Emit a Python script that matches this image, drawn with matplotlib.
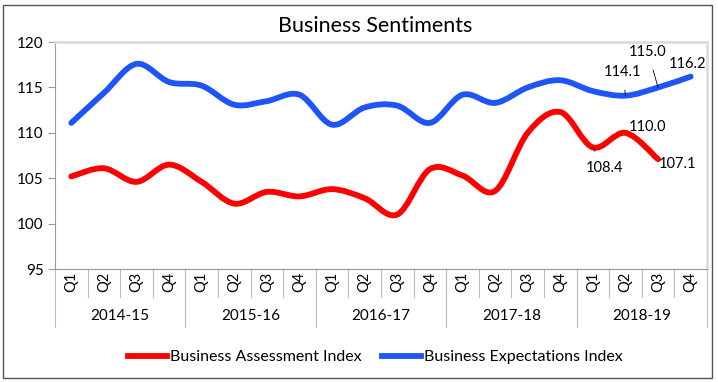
import numpy as np
import matplotlib
matplotlib.use("Agg")
import matplotlib.pyplot as plt
from matplotlib.path import Path
from matplotlib.patches import PathPatch, Rectangle
from matplotlib.lines import Line2D

# data
years = ["2014-15", "2015-16", "2016-17", "2017-18", "2018-19"]
quarters = ["Q1", "Q2", "Q3", "Q4"]
assessment = [105.2, 106.1, 104.6, 106.5, 104.6, 102.2, 103.5, 103.0, 103.8, 102.8,
              101.0, 106.0, 105.3, 103.6, 110.0, 112.3, 108.4, 110.0, 107.1]
expectations = [111.1, 114.4, 117.6, 115.6, 115.2, 113.1, 113.5, 114.2, 110.9, 112.8,
                113.0, 111.1, 114.2, 113.3, 115.0, 115.8, 114.6, 114.1, 115.0, 116.2]

plt.rcParams["font.family"] = ["Lato", "DejaVu Sans"]

RED = "#FF0000"
BLUE = "#1F55F7"


def smooth_path(xs, ys):
    # excel-style smoothed line: catmull-rom as cubic bezier segments
    pts = np.column_stack([xs, ys])
    n = len(pts)
    verts = [pts[0]]
    codes = [Path.MOVETO]
    for i in range(n - 1):
        p0 = pts[i - 1] if i > 0 else pts[i]
        p1 = pts[i]
        p2 = pts[i + 1]
        p3 = pts[i + 2] if i + 2 < n else pts[i + 1]
        c1 = p1 + (p2 - p0) / 6.0
        c2 = p2 - (p3 - p1) / 6.0
        verts += [c1, c2, p2]
        codes += [Path.CURVE4] * 3
    return Path(verts, codes)


fig = plt.figure(figsize=(7.18, 3.82), dpi=100)
fig.patch.set_facecolor("white")
fig.add_artist(Rectangle((0.004, 0.01), 0.987, 0.978, transform=fig.transFigure,
                         fill=False, edgecolor="#555555", lw=1.0))

ax = fig.add_axes([0.0766, 0.2958, 0.908, 0.594])
n = len(years) * len(quarters)
x = np.arange(n) + 0.5

ax.add_patch(PathPatch(smooth_path(x[:len(assessment)], assessment), fill=False,
                       edgecolor=RED, lw=4.2, capstyle="round", joinstyle="round"))
ax.add_patch(PathPatch(smooth_path(x[:len(expectations)], expectations), fill=False,
                       edgecolor=BLUE, lw=4.2, capstyle="round", joinstyle="round"))

ax.set_xlim(0, n)
ax.set_ylim(95, 120)
ax.set_yticks(np.arange(95, 121, 5))
ax.tick_params(axis="y", labelsize=11, length=5, color="#999999", pad=3)
ax.set_xticks([])

for side in ["top", "right"]:
    ax.spines[side].set_color("#DDDDDD")
    ax.spines[side].set_linewidth(2)
ax.spines["left"].set_color("#999999")
ax.spines["bottom"].set_color("#999999")

# multi-level category axis
tr = ax.get_xaxis_transform()
for i in range(n + 1):
    depth = -0.255 if i % 4 == 0 else -0.123
    ax.plot([i, i], [0, depth], color="#BBBBBB", lw=0.8, transform=tr, clip_on=False)
for i in range(n):
    ax.text(x[i], -0.058, quarters[i % 4], rotation=90, ha="center", va="center",
            fontsize=10.5, transform=tr)
for j, yr in enumerate(years):
    ax.text(j * 4 + 2, -0.208, yr, ha="center", va="center", fontsize=11, transform=tr)

# data labels
lab = dict(fontsize=10.5, ha="center", va="center")
line = dict(arrowstyle="-", lw=0.6, color="black", shrinkA=6, shrinkB=0)
ax.annotate(f"{assessment[16]:.1f}", (x[16], assessment[16]), xytext=(x[16] + 0.37, 106.1),
            arrowprops=line, **lab)
ax.text(x[17] + 0.69, 110.6, f"{assessment[17]:.1f}", **lab)
ax.text(x[18] + 0.6, 106.6, f"{assessment[18]:.1f}", **lab)
ax.annotate(f"{expectations[17]:.1f}", (x[17], expectations[17]), xytext=(x[17] - 0.08, 116.7),
            arrowprops=line, **lab)
ax.annotate(f"{expectations[18]:.1f}", (x[18], expectations[18]), xytext=(x[18] - 0.31, 118.9),
            arrowprops=line, **lab)
ax.text(x[19] - 0.1, 117.6, f"{expectations[19]:.1f}", clip_on=False, **lab)

fig.text(0.522, 0.932, "Business Sentiments", ha="center", va="center", fontsize=15.5)

handles = [Line2D([], [], color=RED, lw=4.2), Line2D([], [], color=BLUE, lw=4.2)]
fig.legend(handles, ["Business Assessment Index", "Business Expectations Index"],
           loc="center", bbox_to_anchor=(0.523, 0.065), ncol=2, frameon=False,
           fontsize=11.5, handlelength=2.4, handletextpad=0.2, columnspacing=1.3)

fig.savefig("out.png", dpi=100)
